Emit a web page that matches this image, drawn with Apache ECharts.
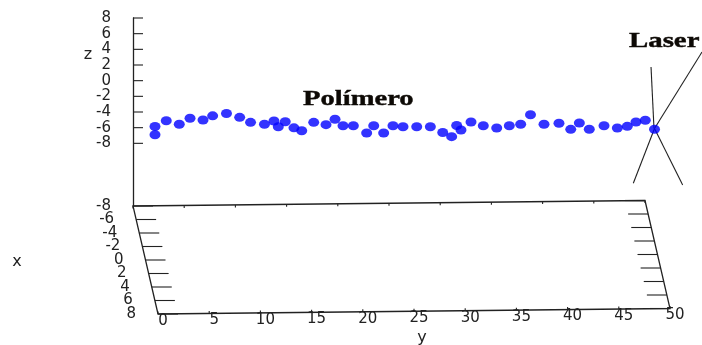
<!DOCTYPE html>
<html>
<head>
<meta charset="utf-8">
<script src="https://cdn.jsdelivr.net/npm/echarts@6/dist/echarts.min.js"></script>
<style>
html, body { margin: 0; padding: 0; background: #fff; }
#chart { width: 702px; height: 345px; }
</style>
</head>
<body>
<div id="chart"></div>
<script>
// polymer strip: position along y and height z of each sampled point
const pointY = [0, 0, 1.10, 2.37, 3.42, 4.69, 5.63, 6.98, 8.27, 9.33,
    10.69, 11.62, 12.04, 12.72, 13.57, 14.33, 15.50, 16.70, 17.58, 18.36,
    19.37, 20.67, 21.36, 22.33, 23.24, 24.22, 25.56, 26.89, 28.10, 28.97,
    29.46, 29.88, 30.86, 32.06, 33.37, 34.60, 35.71, 36.67, 37.99, 39.45,
    40.60, 41.44, 42.41, 43.85, 45.15, 46.12, 46.97, 47.88, 48.78]
const pointZ = [-5.85, -6.90, -5.11, -5.57, -4.80, -5.02, -4.49, -4.19, -4.68, -5.32,
    -5.57, -5.15, -5.88, -5.24, -6.02, -6.40, -5.32, -5.62, -4.92, -5.75,
    -5.75, -6.68, -5.75, -6.68, -5.75, -5.88, -5.88, -5.88, -6.62, -7.15,
    -5.72, -6.30, -5.28, -5.75, -6.04, -5.75, -5.57, -4.35, -5.57, -5.44,
    -6.21, -5.40, -6.20, -5.75, -6.04, -5.83, -5.28, -5.06, -6.20]

const zTicks = [-8, -6, -4, -2, 0, 2, 4, 6, 8]
const xTicks = [-8, -6, -4, -2, 0, 2, 4, 6, 8]
const yTicks = [0, 5, 10, 15, 20, 25, 30, 35, 40, 45, 50]

// laser beam sketch, in y / z units
const laserTop = [[48.44, 1.74], [48.73, -6.1]]
const laserUpRight = [[53.42, 3.66], [48.78, -6.1]]
const laserLowLeft = [[48.78, -6.1], [46.71, -13.1]]
const laserLowRight = [[48.78, -6.1], [51.53, -13.32]]

const axisFont = '15px "DejaVu Sans"'
const ink = '#222'

// floor of the 3d box, sheared to look like gnuplot's view
function renderFloor(params, api) {
    const P = (yv, d) => {
        const c = api.coord([yv, d])
        return [c[0] + (d + 8) / 16 * 25, c[1] - yv / 50 * 5.5]
    }
    const line = (a, b) => ({
        type: 'line',
        shape: { x1: a[0], y1: a[1], x2: b[0], y2: b[1] },
        style: { stroke: ink, lineWidth: 1.1 }
    })
    const children = [{
        type: 'polygon',
        shape: { points: [P(0, -8), P(50, -8), P(50, 8), P(0, 8)] },
        style: { fill: 'transparent', stroke: ink, lineWidth: 1.3 }
    }]
    xTicks.forEach(d => {
        const a = P(0, d), b = P(50, d)
        children.push(line(a, [a[0] + 20, a[1]]))
        children.push(line([b[0] - 20, b[1]], b))
        children.push({
            type: 'text',
            style: { x: a[0] - 22, y: a[1], text: String(d), align: 'right', verticalAlign: 'middle', font: axisFont, fill: ink }
        })
    })
    yTicks.forEach(v => {
        const a = P(v, -8), b = P(v, 8)
        children.push(line(a, [a[0], a[1] + 2.5]))
        children.push(line(b, [b[0], b[1] - 2.5]))
        children.push({
            type: 'text',
            style: { x: b[0] + 5, y: b[1] + 7, text: String(v), align: 'center', verticalAlign: 'middle', font: axisFont, fill: ink }
        })
    })
    return { type: 'group', children }
}

// tick marks of the z axis, pointing into the box
function renderZTicks(params, api) {
    const children = zTicks.map(z => {
        const c = api.coord([0, z])
        return {
            type: 'line',
            shape: { x1: c[0] - 22, y1: c[1], x2: c[0] - 12, y2: c[1] },
            style: { stroke: ink, lineWidth: 1.1 }
        }
    })
    return { type: 'group', children }
}

const laserStyle = { color: '#222', width: 1.1 }
const laserSeries = [laserTop, laserUpRight, laserLowLeft, laserLowRight].map(seg => ({
    type: 'line',
    xAxisIndex: 0,
    yAxisIndex: 0,
    data: seg,
    symbol: 'none',
    silent: true,
    clip: false,
    lineStyle: laserStyle,
    z: 3
}))

const chart = echarts.init(document.getElementById('chart'), null, { renderer: 'canvas' })
chart.setOption({
    animation: false,
    backgroundColor: '#fff',
    grid: [
        { left: 155, top: 18, width: 563.2, height: 188, outerBoundsMode: 'none', containLabel: false },
        { left: 133, top: 206, width: 512, height: 108, outerBoundsMode: 'none', containLabel: false }
    ],
    xAxis: [
        { type: 'value', gridIndex: 0, min: 0, max: 55, show: false },
        { type: 'value', gridIndex: 1, min: 0, max: 50, show: false }
    ],
    yAxis: [
        {
            type: 'value', gridIndex: 0, min: -16, max: 8,
            position: 'left', offset: 22,
            axisLine: { show: true, onZero: false, lineStyle: { color: ink, width: 1.3 } },
            axisTick: { show: false },
            axisLabel: { customValues: zTicks, margin: 22, color: ink, fontSize: 15, fontFamily: 'DejaVu Sans' },
            splitLine: { show: false }
        },
        { type: 'value', gridIndex: 1, min: -8, max: 8, inverse: true, show: false }
    ],
    series: [
        {
            type: 'custom',
            xAxisIndex: 1,
            yAxisIndex: 1,
            clip: false,
            silent: true,
            data: [[0, 0]],
            renderItem: renderFloor
        },
        {
            type: 'custom',
            xAxisIndex: 0,
            yAxisIndex: 0,
            clip: false,
            silent: true,
            data: [[0, 0]],
            renderItem: renderZTicks
        },
        ...laserSeries,
        {
            type: 'scatter',
            xAxisIndex: 0,
            yAxisIndex: 0,
            data: pointY.map((y, i) => [y, pointZ[i]]),
            symbol: 'circle',
            symbolSize: [11, 9],
            itemStyle: { color: '#0000ff' },
            z: 4
        }
    ],
    graphic: [
        { type: 'text', x: 88, y: 55, style: { text: 'z', font: '16px "DejaVu Sans"', fill: ink, align: 'center', verticalAlign: 'middle' } },
        { type: 'text', x: 17, y: 262, style: { text: 'x', font: '16px "DejaVu Sans"', fill: ink, align: 'center', verticalAlign: 'middle' } },
        { type: 'text', x: 422, y: 338, style: { text: 'y', font: '16px "DejaVu Sans"', fill: ink, align: 'center', verticalAlign: 'middle' } },
        { type: 'text', x: 303, y: 99, scaleX: 1.3, style: { text: 'Polímero', font: 'bold 22px "Liberation Serif"', fill: '#0d0905', stroke: '#0d0905', lineWidth: 0.4, align: 'left', verticalAlign: 'middle' } },
        { type: 'text', x: 629, y: 41, scaleX: 1.31, style: { text: 'Laser', font: 'bold 22px "Liberation Serif"', fill: '#0d0905', stroke: '#0d0905', lineWidth: 0.4, align: 'left', verticalAlign: 'middle' } }
    ]
})
</script>
</body>
</html>
